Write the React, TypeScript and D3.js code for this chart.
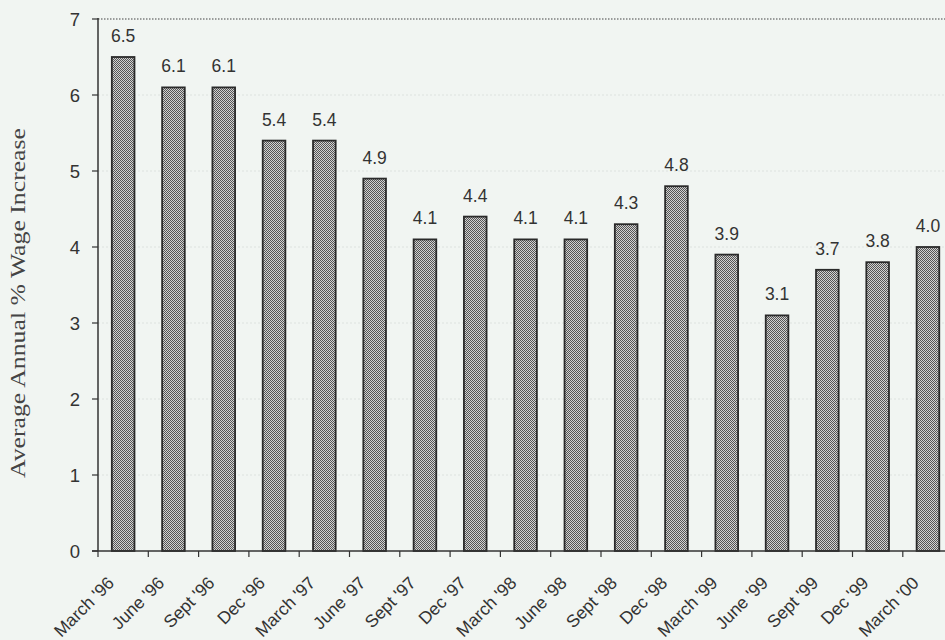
import React from "react";
import * as d3 from "d3";

const categories = [
  "March '96", "June '96", "Sept '96", "Dec '96", "March '97", "June '97", "Sept '97", "Dec '97",
  "March '98", "June '98", "Sept '98", "Dec '98", "March '99", "June '99", "Sept '99", "Dec '99", "March '00",
];
const values = [6.5, 6.1, 6.1, 5.4, 5.4, 4.9, 4.1, 4.4, 4.1, 4.1, 4.3, 4.8, 3.9, 3.1, 3.7, 3.8, 4.0];
const yTicks = [0, 1, 2, 3, 4, 5, 6, 7];
const yTitle = "Average Annual % Wage Increase";

const W = 945;
const H = 640;
const left = 98;
const step = 50.3;
const y0 = 551;
const yTop = 19;

export default function App() {
  const x = d3
    .scaleBand<string>()
    .domain(categories)
    .range([left, left + step * categories.length])
    .paddingInner(0.55)
    .paddingOuter(0.275);
  const y = d3.scaleLinear().domain([0, 7]).range([y0, yTop]);
  const bw = x.bandwidth();
  const sans = "'Liberation Sans', Arial, sans-serif";
  const boundaries = d3.range(categories.length + 1).map((i) => left + i * x.step());

  return (
    <div style={{ position: "absolute", left: 0, top: 0 }}>
      <svg width={W} height={H} style={{ display: "block" }}>
        <defs>
          <pattern id="dots" width={2} height={2} patternUnits="userSpaceOnUse">
            <rect width={2} height={2} fill="#d2d2d2" />
            <rect x={0} y={0} width={1} height={1} fill="#555" />
            <rect x={1} y={1} width={1} height={1} fill="#555" />
          </pattern>
        </defs>
        <rect width={W} height={H} fill="#f1f5f2" />
        {/* gridlines */}
        {yTicks.filter((t) => t > 0).map((t) => (
          <line
            key={"g" + t}
            x1={left}
            x2={W}
            y1={y(t)}
            y2={y(t)}
            stroke={t === 7 ? "#444" : "#dde2df"}
            strokeWidth={t === 7 ? 1.2 : 1}
            strokeDasharray={t === 7 ? "1.5 1.5" : "2 2"}
          />
        ))}
        {/* bars */}
        {values.map((v, i) => (
          <rect
            key={"b" + i}
            x={x(categories[i])!}
            y={y(v)}
            width={bw}
            height={y0 - y(v)}
            fill="url(#dots)"
            stroke="#2a2a2a"
            strokeWidth={1.8}
          />
        ))}
        {/* value labels */}
        {values.map((v, i) => (
          <text
            key={"v" + i}
            x={x(categories[i])! + bw / 2}
            y={y(v) - 15}
            textAnchor="middle"
            fontFamily={sans}
            fontSize={17.5}
            fill="#333"
          >
            {v.toFixed(1)}
          </text>
        ))}
        {/* y axis */}
        <line x1={left} x2={left} y1={yTop - 1} y2={y0} stroke="#333" strokeWidth={1.5} />
        {yTicks.map((t) => (
          <g key={"yt" + t}>
            <line x1={left - 6} x2={left} y1={y(t)} y2={y(t)} stroke="#333" strokeWidth={1.2} />
            <text
              x={left - 18}
              y={y(t) + 6.5}
              textAnchor="end"
              fontFamily={sans}
              fontSize={18.5}
              fill="#333"
            >
              {t}
            </text>
          </g>
        ))}
        {/* x axis */}
        <line x1={left - 6} x2={W} y1={y0} y2={y0} stroke="#333" strokeWidth={1.5} />
        {boundaries.map((b, i) => (
          <line key={"xt" + i} x1={b} x2={b} y1={y0} y2={y0 + 6} stroke="#333" strokeWidth={1.2} />
        ))}
        {categories.map((c) => {
          const cx = x(c)! + bw / 2;
          return (
            <text
              key={"xl" + c}
              transform={`translate(${cx - 8},${y0 + 33}) rotate(-45)`}
              textAnchor="end"
              fontFamily={sans}
              fontSize={17.5}
              fill="#333"
            >
              {c}
            </text>
          );
        })}
        {/* y title */}
        <text
          transform={`translate(25,${(y0 + yTop) / 2 + 18}) rotate(-90)`}
          textAnchor="middle"
          fontFamily="'Liberation Serif', 'Times New Roman', serif"
          fontSize={22}
          textLength={350}
          lengthAdjust="spacingAndGlyphs"
          fill="#444"
        >
          {yTitle}
        </text>
      </svg>
    </div>
  );
}
